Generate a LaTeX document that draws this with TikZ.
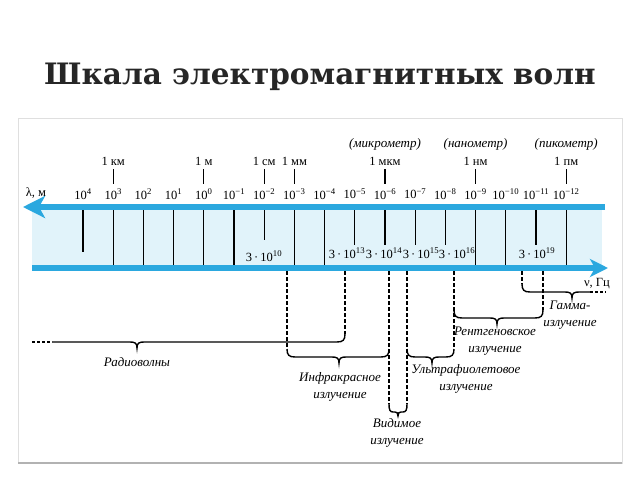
\documentclass[tikz,border=0pt]{standalone}
\usepackage{fontspec}
\setmainfont{Liberation Serif}
\newfontfamily\titlefont{DejaVu Serif}
\usetikzlibrary{arrows.meta}

\definecolor{scaleblue}{HTML}{2BA8DF}
\definecolor{bandblue}{HTML}{E1F3FA}
\definecolor{titlegray}{HTML}{262626}

\newcommand\rangebrace[4]{%
  \draw[bracket] (#1,#4-8) .. controls (#1,#4-2) and (#1+2,#4) .. (#1+8,#4)
    -- (#3-7,#4) .. controls (#3-2,#4) and (#3,#4+1) .. (#3,#4+6)
    .. controls (#3,#4+1) and (#3+2,#4) .. (#3+7,#4)
    -- (#2-8,#4) .. controls (#2-2,#4) and (#2,#4-2) .. (#2,#4-8);}

\begin{document}
\begin{tikzpicture}[x=1pt,y=-1pt,
    axisline/.style={scaleblue,line width=6pt},
    scaletick/.style={line width=1.3pt},
    bracket/.style={line width=1.4pt},
    guide/.style={line width=1.3pt,dash pattern=on 3.5pt off 2.5pt},
    powlabel/.style={font=\fontsize{12.5}{12}\selectfont,inner sep=0pt},
    unitlabel/.style={font=\fontsize{12.5}{12}\selectfont,inner sep=0pt},
    freqlabel/.style={font=\fontsize{12.5}{12}\selectfont,inner sep=0pt},
    rangelabel/.style={font=\itshape\fontsize{13}{17}\selectfont,align=center,inner sep=0pt}]
\useasboundingbox (0,0) rectangle (640,480);

\node[font=\titlefont\bfseries\fontsize{29.5}{30}\selectfont,text=titlegray] (title) at (320,77) {Шкала электромагнитных волн};

\draw[gray!25] (18,118) rectangle (622,463);
\draw[gray!60,line width=1.5pt] (18,463) -- (622,463);

\fill[bandblue] (32,207) rectangle (602,268);
\foreach \i in {1,2,3,4,5,7,8,13,14,16}
  \draw[scaletick] (83+30.2*\i,209) -- (83+30.2*\i,266);
\draw[scaletick] (83,209) -- (83,252);
\draw[scaletick] (264.2,209) -- (264.2,240);
\foreach \i in {9,10,11,12,15}
  \draw[scaletick] (83+30.2*\i,209) -- (83+30.2*\i,245);

\draw[axisline,-{Stealth[length=22pt,width=22pt,inset=6pt]}] (605,207) -- (23,207);
\draw[axisline,-{Stealth[length=18pt,width=18pt,inset=5pt]}] (32,268) -- (608,268);

\node[powlabel] (lambda) at (36,193) {λ, м};
\foreach \p [count=\i from 0] in {4,3,2,1,0,−1,−2,−3,−4,−5,−6,−7,−8,−9,−10,−11,−12}
  \node[powlabel] (pow\i) at (83+30.2*\i,194) {10\textsuperscript{\p}};

\foreach \x/\u/\n in {113.2/1 км/km, 203.8/1 м/m, 264.2/1 см/cm, 294.4/1 мм/mm, 385/1 мкм/mkm, 475.6/1 нм/nm, 566.2/1 пм/pm} {
  \node[unitlabel] (\n) at (\x,161) {\u};
  \draw[scaletick] (\x,169) -- (\x,184);
}
\node[rangelabel] (micro) at (385,144) {(микрометр)};
\node[rangelabel] (nano) at (475.6,144) {(нанометр)};
\node[rangelabel] (pico) at (566.2,144) {(пикометр)};

\node[freqlabel] (f10) at (264,256) {3\,·\,10\textsuperscript{10}};
\node[freqlabel] (f13) at (347,253) {3\,·\,10\textsuperscript{13}};
\node[freqlabel] (f14) at (384,253) {3\,·\,10\textsuperscript{14}};
\node[freqlabel] (f15) at (421,253) {3\,·\,10\textsuperscript{15}};
\node[freqlabel] (f16) at (457,253) {3\,·\,10\textsuperscript{16}};
\node[freqlabel] (f19) at (537,253) {3\,·\,10\textsuperscript{19}};
\node[powlabel] (nu) at (597,284) {ν, Гц};

\draw[guide] (287,271) -- (287,349);
\draw[guide] (345,271) -- (345,334);
\draw[guide] (389,271) -- (389,404);
\draw[guide] (407,271) -- (407,404);
\draw[guide] (454,271) -- (454,349);
\draw[guide] (522,271) -- (522,284);
\draw[guide] (543,271) -- (543,310);

\draw[bracket,dash pattern=on 3pt off 2pt] (32,342) -- (52,342);
\draw[bracket] (52,342) -- (130,342) .. controls (135,342) and (137,343) .. (137,348)
  .. controls (137,343) and (139,342) .. (144,342) -- (337,342)
  .. controls (343,342) and (345,340) .. (345,334);
\rangebrace{287}{389}{339}{357}
\draw[bracket] (389,404) .. controls (389,410) and (390,412) .. (393,412) -- (395,412)
  .. controls (397,412) and (398,413) .. (398,416) .. controls (398,413) and (399,412) .. (401,412)
  -- (403,412) .. controls (406,412) and (407,410) .. (407,404);
\rangebrace{407}{454}{432}{357}
\rangebrace{454}{543}{497}{318}
\draw[bracket] (522,284) .. controls (522,290) and (524,292) .. (530,292) -- (565,292)
  .. controls (570,292) and (572,293) .. (572,298) .. controls (572,293) and (574,292) .. (579,292)
  -- (590,292);
\draw[bracket,dash pattern=on 3pt off 2pt] (590,292) -- (606,292);

\node[rangelabel] (radio) at (137,362) {Радиоволны};
\node[rangelabel] (infrared) at (340,387) {Инфракрасное\\излучение};
\node[rangelabel] (visible) at (397,433) {Видимое\\излучение};
\node[rangelabel] (ultraviolet) at (466,379) {Ультрафиолетовое\\излучение};
\node[rangelabel] (xray) at (495,341) {Рентгеновское\\излучение};
\node[rangelabel] (gamma) at (570,315) {Гамма-\\излучение};
\end{tikzpicture}
\end{document}
